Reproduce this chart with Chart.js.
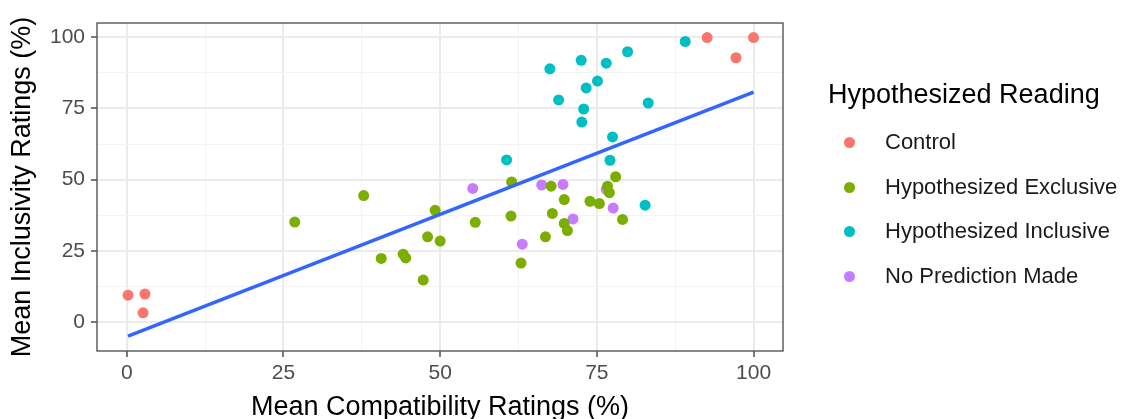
<!DOCTYPE html>
<html>
<head>
<meta charset="utf-8">
<script src="https://cdn.jsdelivr.net/npm/chart.js@4.4.1/dist/chart.umd.min.js"></script>
<style>
  body { margin: 0; background: #fff; }
  #wrap { position: relative; width: 1126px; height: 419px; font-family: "Liberation Sans", Arial, sans-serif; }
  #legend { position: absolute; left: 828px; top: 0; width: 298px; height: 419px; }
  #legend .title { position: absolute; left: 0; top: 81px; font-size: 27px; line-height: 27px; color: #000; white-space: nowrap; }
  #legend .item { position: absolute; left: 0; height: 22px; white-space: nowrap; }
  #legend .dot { position: absolute; left: 16px; top: 6px; width: 11px; height: 11px; border-radius: 50%; }
  #legend .label { position: absolute; left: 57px; top: 0; font-size: 22px; line-height: 22px; color: #1a1a1a; }
</style>
</head>
<body>
<div id="wrap">
  <canvas id="scatterChart" width="1126" height="419"></canvas>
  <div id="legend"></div>
</div>
<script>
var legendTitle = "Hypothesized Reading";
var seriesNames = ["Control", "Hypothesized Exclusive", "Hypothesized Inclusive", "No Prediction Made"];
var seriesColors = ["#F8766D", "#7CAE00", "#00BFC4", "#C77CFF"];

// Control
var controlX = [0.2, 2.9, 2.6, 92.6, 100, 97.2];
var controlY = [9.4, 9.8, 3.2, 99.9, 99.9, 92.8];

// Hypothesized Exclusive
var exclusiveX = [26.8, 37.8, 40.6, 44.1, 44.5, 47.3, 48.0, 49.2, 50.0, 55.6, 61.4, 61.3, 62.9,
                  66.8, 67.7, 67.9, 69.8, 69.8, 70.3, 73.9, 75.4, 77.0, 76.7, 78.0, 79.1];
var exclusiveY = [35.1, 44.4, 22.3, 23.8, 22.5, 14.7, 29.9, 39.2, 28.4, 35.0, 49.2, 37.2, 20.7,
                  29.9, 47.7, 38.1, 43.0, 34.6, 32.1, 42.4, 41.6, 45.4, 47.7, 51.0, 36.0];

// Hypothesized Inclusive
var inclusiveX = [89.1, 67.5, 72.5, 76.5, 79.9, 75.1, 73.3, 68.9, 72.9, 72.6, 83.2, 77.5, 60.6, 77.1, 82.7];
var inclusiveY = [98.5, 88.9, 91.9, 90.9, 94.9, 84.6, 82.2, 78.0, 74.8, 70.2, 76.9, 65.0, 56.9, 56.8, 41.0];

// No Prediction Made
var noPredX = [55.2, 63.1, 66.2, 69.6, 71.2, 76.5, 77.6];
var noPredY = [46.9, 27.3, 48.1, 48.3, 36.2, 46.6, 40.0];

// linear fit ends
var fitX = [0.2, 100];
var fitY = [-5.0, 80.7];

var xTicks = [0, 25, 50, 75, 100];
var yTicks = [0, 25, 50, 75, 100];
var xRange = [-4.75, 104.7];
var yRange = [-10.2, 105];

function toPoints(xs, ys) {
    return xs.map(function (x, i) { return {x: x, y: ys[i]}; });
}

// major ticks plus the halfway minor lines
function withMinor(ticks) {
    var out = [];
    ticks.forEach(function (t, i) {
        out.push(t);
        if (i < ticks.length - 1) out.push((t + ticks[i + 1]) / 2);
    });
    return out;
}

function isMajor(v, ticks) {
    return ticks.indexOf(v) !== -1;
}

var seriesX = [controlX, exclusiveX, inclusiveX, noPredX];
var seriesY = [controlY, exclusiveY, inclusiveY, noPredY];

var datasets = [{
    type: 'line',
    label: 'fit',
    data: toPoints(fitX, fitY),
    borderColor: '#3366FF',
    borderWidth: 3.5,
    pointRadius: 0,
    fill: false
}];

seriesNames.forEach(function (name, i) {
    datasets.push({
        label: name,
        data: toPoints(seriesX[i], seriesY[i]),
        backgroundColor: seriesColors[i],
        borderWidth: 0,
        pointRadius: 5.5,
        pointHoverRadius: 5.5
    });
});

function axisOptions(ticks, range) {
    return {
        min: range[0],
        max: range[1],
        afterBuildTicks: function (scale) {
            scale.ticks = withMinor(ticks).map(function (v) { return {value: v}; });
        },
        ticks: {
            autoSkip: false,
            maxRotation: 0,
            color: '#4D4D4D',
            font: {family: 'Liberation Sans', size: 21},
            padding: 4,
            callback: function (v) { return isMajor(v, ticks) ? String(v) : ''; }
        },
        grid: {
            color: function (c) { return c.tick && isMajor(c.tick.value, ticks) ? '#EBEBEB' : '#F3F3F3'; },
            lineWidth: function (c) { return c.tick && isMajor(c.tick.value, ticks) ? 2 : 1; },
            tickColor: function (c) { return c.tick && isMajor(c.tick.value, ticks) ? '#4D4D4D' : 'rgba(0,0,0,0)'; },
            tickLength: 6,
            tickWidth: 1.5
        },
        border: {display: false}
    };
}

var xAxis = axisOptions(xTicks, xRange);
xAxis.afterFit = function (scale) { scale.height = 68; };
xAxis.title = {
    display: true,
    text: 'Mean Compatibility Ratings (%)',
    color: '#000',
    font: {family: 'Liberation Sans', size: 27, lineHeight: 0.8},
    padding: {top: 0, bottom: 1}
};

var yAxis = axisOptions(yTicks, yRange);
yAxis.afterFit = function (scale) { scale.width = 97; };
yAxis.ticks.padding = 6;
yAxis.title = {
    display: true,
    text: 'Mean Inclusivity Ratings (%)',
    color: '#000',
    font: {family: 'Liberation Sans', size: 27, lineHeight: 0.8},
    padding: {top: 12, bottom: 0}
};

var panelBorder = {
    id: 'panelBorder',
    afterDraw: function (chart) {
        var a = chart.chartArea;
        var c = chart.ctx;
        c.save();
        c.strokeStyle = '#555555';
        c.lineWidth = 1.4;
        c.strokeRect(a.left, a.top, a.right - a.left, a.bottom - a.top);
        c.restore();
    }
};

var ctx = document.getElementById("scatterChart").getContext("2d");
new Chart(ctx, {
    type: 'scatter',
    data: {datasets: datasets},
    options: {
        responsive: false,
        animation: false,
        devicePixelRatio: 1,
        layout: {padding: {top: 23, right: 343, bottom: 0, left: 0}},
        plugins: {
            legend: {display: false},
            tooltip: {enabled: false}
        },
        scales: {x: xAxis, y: yAxis}
    },
    plugins: [panelBorder]
});

// legend on the right
var legend = document.getElementById("legend");
var t = document.createElement("div");
t.className = "title";
t.textContent = legendTitle;
legend.appendChild(t);
seriesNames.forEach(function (name, i) {
    var item = document.createElement("div");
    item.className = "item";
    item.style.top = (131 + i * 44.5) + "px";
    var dot = document.createElement("span");
    dot.className = "dot";
    dot.style.background = seriesColors[i];
    var lab = document.createElement("span");
    lab.className = "label";
    lab.textContent = name;
    item.appendChild(dot);
    item.appendChild(lab);
    legend.appendChild(item);
});
</script>
</body>
</html>
